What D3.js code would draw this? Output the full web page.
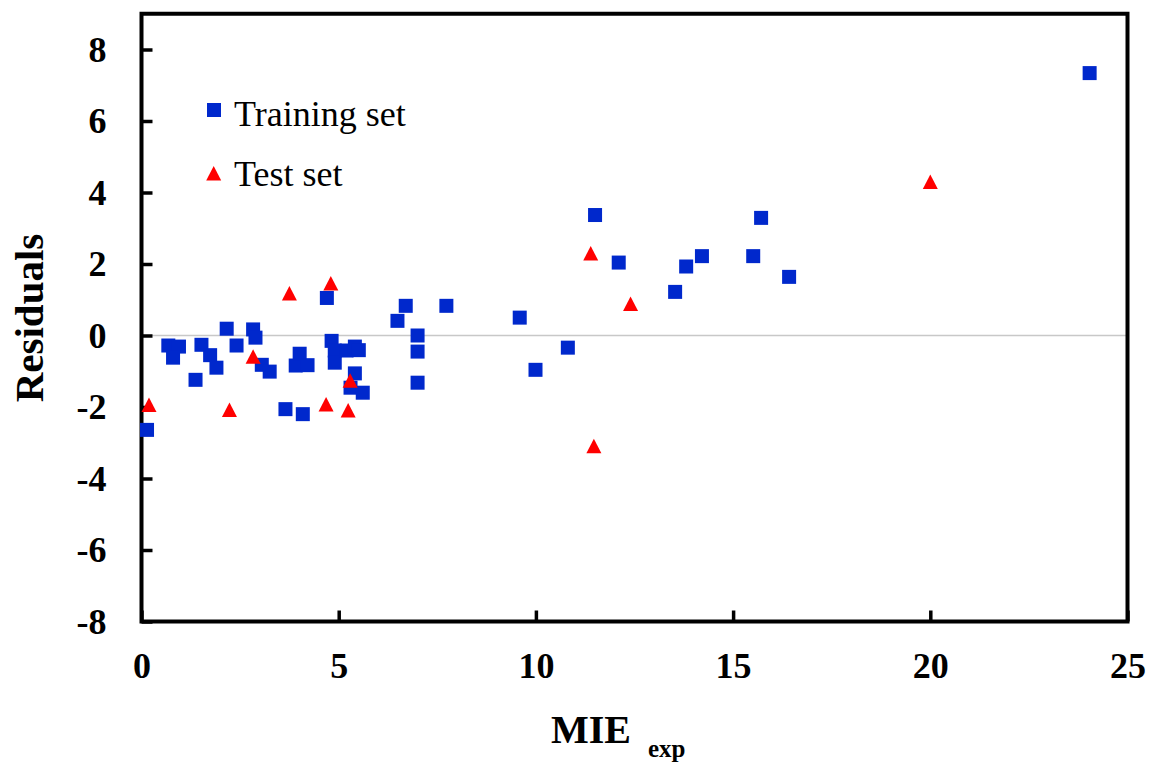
<!DOCTYPE html>
<html>
<head>
<meta charset="utf-8">
<script src="https://cdn.jsdelivr.net/npm/d3@7"></script>
<style>
  html, body { margin: 0; padding: 0; background: #fff; }
  svg { display: block; }
  text { font-family: "Liberation Serif", "Times New Roman", serif; }
</style>
</head>
<body>
<svg id="chart" width="1149" height="763"></svg>
<script>
// ---- data ----
const trainX = [0.14, 0.68, 0.95, 0.80, 1.37, 1.52, 1.74, 1.90, 2.16, 2.41, 2.83, 2.89, 3.05, 3.25, 3.65, 3.91, 4.01, 4.09, 4.21, 4.70, 4.82, 4.90, 4.90, 5.20, 5.30, 5.41, 5.41, 5.51, 5.61, 6.49, 6.70, 7.00, 7.00, 7.00, 7.73, 9.59, 9.99, 10.81, 11.50, 12.10, 13.53, 13.81, 14.21, 15.51, 15.71, 16.42, 24.04];
const trainY = [-2.64, -0.28, -0.31, -0.62, -1.24, -0.26, -0.55, -0.90, 0.19, -0.28, 0.17, -0.06, -0.82, -1.01, -2.06, -0.84, -0.51, -2.20, -0.83, 1.05, -0.15, -0.42, -0.76, -0.42, -1.46, -0.31, -1.06, -0.41, -1.60, 0.41, 0.83, 0.00, -0.45, -1.32, 0.83, 0.50, -0.96, -0.34, 3.37, 2.04, 1.22, 1.93, 2.22, 2.22, 3.29, 1.64, 7.34];
const testX = [0.19, 2.23, 2.83, 3.75, 4.68, 4.80, 5.24, 5.29, 11.39, 11.47, 12.40, 20.00];
const testY = [-1.94, -2.08, -0.59, 1.18, -1.92, 1.46, -2.09, -1.26, 2.30, -3.09, 0.89, 4.30];
const xTicks = [0, 5, 10, 15, 20, 25];
const yTicks = [-8, -6, -4, -2, 0, 2, 4, 6, 8];
const seriesNames = ["Training set", "Test set"];
const xTitle = "MIE";
const xTitleSub = "exp";
const yTitle = "Residuals";

// ---- layout ----
const FONT = "Liberation Serif, Times New Roman, serif";
const svg = d3.select("#chart");
const pLeft = 141.5, pRight = 1127.5, pTop = 13.75, pBottom = 621.5;
const x = d3.scaleLinear().domain([0, 25]).range([pLeft, pRight]);
const y = d3.scaleLinear().domain([-8, 9]).range([pBottom, pTop]);
const blue = "#0028cc", red = "#ff0000";

// zero line
svg.append("line")
  .attr("x1", x(0)).attr("x2", x(25))
  .attr("y1", y(0)).attr("y2", y(0))
  .attr("stroke", "#c8c8c8").attr("stroke-width", 1.5);

// frame
svg.append("rect")
  .attr("x", pLeft).attr("y", pTop)
  .attr("width", pRight - pLeft).attr("height", pBottom - pTop)
  .attr("fill", "none").attr("stroke", "#000").attr("stroke-width", 4);

// axes (inside ticks)
const fmt = d => String(d);
const yAxis = d3.axisLeft(y).tickValues(yTicks).tickSize(-11).tickPadding(35).tickFormat(fmt);
const gy = svg.append("g").attr("transform", `translate(${pLeft},0)`).call(yAxis)
  .attr("font-family", FONT).attr("font-size", 36).attr("font-weight", "bold");
gy.select(".domain").remove();
gy.selectAll(".tick line").attr("stroke", "#000").attr("stroke-width", 3.5);
gy.selectAll(".tick text").attr("fill", "#000");

const xAxis = d3.axisBottom(x).tickValues(xTicks).tickSize(-11).tickPadding(31).tickFormat(fmt);
const gx = svg.append("g").attr("transform", `translate(0,${pBottom})`).call(xAxis)
  .attr("font-family", FONT).attr("font-size", 36).attr("font-weight", "bold");
gx.select(".domain").remove();
gx.selectAll(".tick line").attr("stroke", "#000").attr("stroke-width", 3.5);
gx.selectAll(".tick text").attr("fill", "#000");

// axis titles
const xt = svg.append("text")
  .attr("x", 551).attr("y", 743)
  .attr("font-family", FONT)
  .style("font-weight", "bold").style("font-size", "40px").attr("fill", "#000");
xt.append("tspan").text(xTitle);
xt.append("tspan").attr("dx", 17).attr("dy", 14).style("font-size", "25px").text(xTitleSub);

svg.append("text")
  .attr("transform", `translate(43,318) rotate(-90)`)
  .attr("text-anchor", "middle")
  .attr("font-family", FONT)
  .style("font-weight", "bold").style("font-size", "41px").attr("fill", "#000")
  .text(yTitle);

// markers
const sq = 14;
const train = trainX.map((v, i) => ({ x: v, y: trainY[i] }));
const test = testX.map((v, i) => ({ x: v, y: testY[i] }));

svg.append("g").selectAll("rect").data(train).join("rect")
  .attr("x", d => x(d.x) - sq / 2).attr("y", d => y(d.y) - sq / 2)
  .attr("width", sq).attr("height", sq).attr("fill", blue);

const triW = 15, triH = 14.5;
const triPath = `M0,${-triH / 2}L${triW / 2},${triH / 2}L${-triW / 2},${triH / 2}Z`;
svg.append("g").selectAll("path").data(test).join("path")
  .attr("d", triPath)
  .attr("transform", d => `translate(${x(d.x)},${y(d.y)})`)
  .attr("fill", red);

// legend
const lg = svg.append("g").attr("font-family", FONT);
lg.append("rect").attr("x", 214 - 7).attr("y", 110 - 7).attr("width", 14).attr("height", 14).attr("fill", blue);
lg.append("text").attr("x", 234).attr("y", 125.5).style("font-size", "36px").attr("fill", "#000").text(seriesNames[0]);
lg.append("path").attr("d", triPath).attr("transform", "translate(213.7,173.3)").attr("fill", red);
lg.append("text").attr("x", 234).attr("y", 186).style("font-size", "36px").attr("fill", "#000").text(seriesNames[1]);
</script>
</body>
</html>
